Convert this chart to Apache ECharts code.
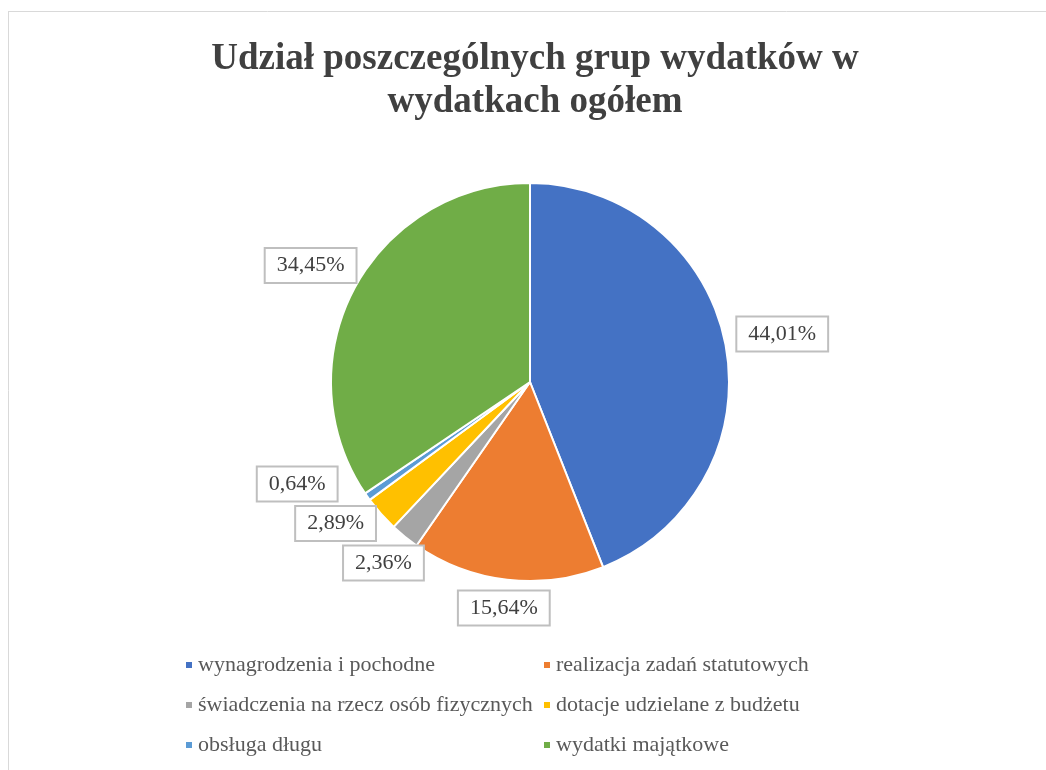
<!DOCTYPE html>
<html>
<head>
<meta charset="utf-8">
<title>Udział grup wydatków</title>
<script src="https://cdn.jsdelivr.net/npm/echarts@6/dist/echarts.min.js"></script>
<style>
  html, body { margin: 0; padding: 0; background: #fff; }
  #chart { width: 1046px; height: 770px; }
</style>
</head>
<body>
<div id="chart"></div>
<script>
// dane wykresu
const categories = [
  'wynagrodzenia i pochodne',
  'realizacja zadań statutowych',
  'świadczenia na rzecz osób fizycznych',
  'dotacje udzielane z budżetu',
  'obsługa długu',
  'wydatki majątkowe'
]
const shares = [44.01, 15.64, 2.36, 2.89, 0.64, 34.45]
const colors = ['#4472C4', '#ED7D31', '#A5A5A5', '#FFC000', '#5B9BD5', '#70AD47']

const serif = '"Liberation Serif", "Times New Roman", serif'
const pieCenter = [530, 382]
const pieRadius = 199

// kąt środka każdego wycinka (od godziny 12, zgodnie z ruchem wskazówek)
const total = shares.reduce((a, b) => a + b, 0)
const midAngles = []
let acc = 0
shares.forEach((v) => {
  midAngles.push((acc + v / 2) / total * 360)
  acc += v
})

// etykiety jak w Excelu: tuż za krawędzią, przesuwane po okręgu przy nakładaniu
let placed = []
function placeLabel(params) {
  const i = params.dataIndex
  if (i === 0) placed = []
  const w = params.labelRect.width
  const h = params.labelRect.height
  const gap = 10
  let deg = midAngles[i]
  let box
  for (let step = 0; step < 200; step++) {
    const a = deg * Math.PI / 180
    const sx = Math.sin(a)
    const cy = -Math.cos(a)
    const ext = Math.min(
      Math.abs(sx) > 1e-6 ? (w / 2) / Math.abs(sx) : Infinity,
      Math.abs(cy) > 1e-6 ? (h / 2) / Math.abs(cy) : Infinity
    )
    const d = pieRadius + gap + ext
    const x = pieCenter[0] + d * sx
    const y = pieCenter[1] + d * cy
    box = { x: x - w / 2, y: y - h / 2, w, h, cx: x, cy: y }
    const hit = placed.some((b) =>
      box.x < b.x + b.w + 2 && b.x < box.x + box.w + 2 &&
      box.y < b.y + b.h + 2 && b.y < box.y + box.h + 2)
    if (!hit) break
    deg += 0.5
  }
  placed.push(box)
  return { x: box.cx, y: box.cy, align: 'center', verticalAlign: 'middle' }
}

const chart = echarts.init(document.getElementById('chart'))

const legendText = { fontFamily: serif, fontSize: 22, color: '#595959' }

const option = {
  backgroundColor: '#fff',
  color: colors,
  title: {
    text: 'Udział poszczególnych grup wydatków w\nwydatkach ogółem',
    left: 530,
    textAlign: 'center',
    top: 33,
    textStyle: {
      fontFamily: serif,
      fontSize: 37,
      fontWeight: 'bold',
      color: '#404040',
      lineHeight: 43
    }
  },
  // legenda w dwóch kolumnach
  legend: [
    {
      data: [categories[0], categories[2], categories[4]],
      orient: 'vertical',
      left: 179,
      top: 649,
      itemWidth: 8,
      itemHeight: 8,
      itemGap: 18,
      icon: 'rect',
      textStyle: legendText
    },
    {
      data: [categories[1], categories[3], categories[5]],
      orient: 'vertical',
      left: 537,
      top: 649,
      itemWidth: 8,
      itemHeight: 8,
      itemGap: 18,
      icon: 'rect',
      textStyle: legendText
    }
  ],
  graphic: [
    { type: 'line', shape: { x1: 8, y1: 11.5, x2: 1046, y2: 11.5 }, style: { stroke: '#d9d9d9', lineWidth: 1 } },
    { type: 'line', shape: { x1: 8.5, y1: 11, x2: 8.5, y2: 770 }, style: { stroke: '#d9d9d9', lineWidth: 1 } }
  ],
  series: [
    {
      type: 'pie',
      center: pieCenter,
      radius: pieRadius,
      startAngle: 90,
      clockwise: true,
      animation: false,
      itemStyle: { borderColor: '#fff', borderWidth: 2 },
      label: {
        show: true,
        position: 'outside',
        formatter: (p) => p.value.toFixed(2).replace('.', ',') + '%',
        fontFamily: serif,
        fontSize: 22,
        color: '#404040',
        backgroundColor: '#fff',
        borderColor: '#bfbfbf',
        borderWidth: 2,
        padding: [6, 11, 5, 11]
      },
      labelLine: { show: false },
      labelLayout: placeLabel,
      data: categories.map((name, i) => ({ name, value: shares[i] }))
    }
  ]
}

chart.setOption(option)
</script>
</body>
</html>
